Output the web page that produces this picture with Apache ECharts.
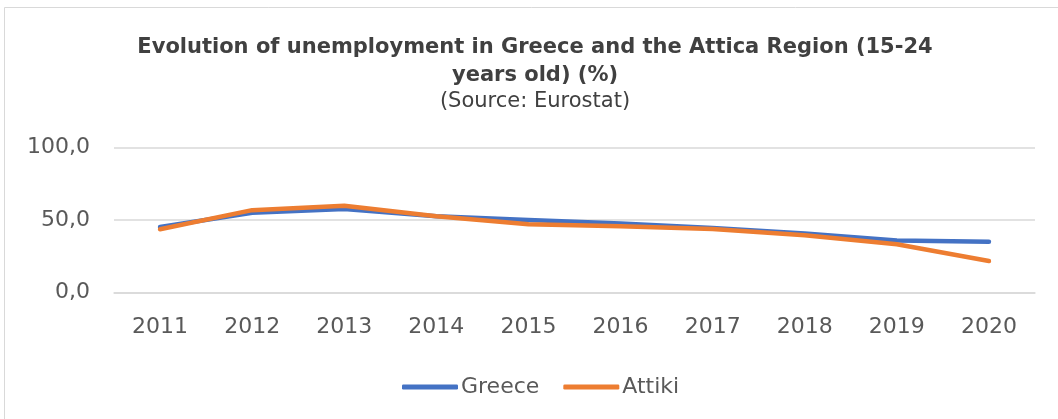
<!DOCTYPE html>
<html>
<head>
<meta charset="utf-8">
<script src="https://cdn.jsdelivr.net/npm/echarts@6/dist/echarts.min.js"></script>
<style>
html,body{margin:0;padding:0;background:#fff;}
#c{width:1058px;height:419px;}
</style>
</head>
<body>
<div id="c"></div>
<script>
const years = ['2011','2012','2013','2014','2015','2016','2017','2018','2019','2020'];
const greece = [45.2, 55.0, 57.6, 52.6, 50.0, 47.6, 44.5, 40.6, 35.8, 35.0];
const attiki = [43.6, 56.8, 59.9, 52.6, 47.0, 45.6, 43.8, 39.4, 33.2, 21.6];
const titleText = 'Evolution of unemployment in Greece and the Attica Region (15-24\nyears old) (%)';
const subtitleText = '(Source: Eurostat)';

const FONT = '"DejaVu Sans", Verdana, sans-serif';
const chart = echarts.init(document.getElementById('c'));
chart.setOption({
  animation: false,
  backgroundColor: '#fff',
  graphic: [{
    type: 'rect', shape: {x: 4.5, y: 7.5, width: 1100, height: 500},
    style: {fill: 'none', stroke: '#d9d9d9', lineWidth: 1}, silent: true, z: -1
  }],
  title: [{
    text: titleText, left: 535, top: 33, textAlign: 'center', padding: 0,
    textStyle: {fontFamily: FONT, fontSize: 21, fontWeight: 'bold', color: '#404040', lineHeight: 28.4}
  }, {
    text: subtitleText, left: 535, top: 90, textAlign: 'center', padding: 0,
    textStyle: {fontFamily: FONT, fontSize: 21, fontWeight: 'normal', color: '#404040', lineHeight: 24}
  }],
  legend: {
    data: ['Greece', 'Attiki'], left: 397, top: 371,
    icon: 'roundRect',
    itemWidth: 56, itemHeight: 5, itemGap: 24,
    textStyle: {fontFamily: FONT, fontSize: 22, color: '#595959', padding: [0,0,0,-2]}
  },
  grid: {left: 114, right: 23, top: 147.7, bottom: 126.7, containLabel: false},
  xAxis: {
    type: 'category', data: years, boundaryGap: true,
    axisLine: {lineStyle: {color: '#d9d9d9', width: 1.5}},
    axisTick: {show: false},
    axisLabel: {fontFamily: FONT, fontSize: 22, color: '#595959', margin: 24}
  },
  yAxis: {
    type: 'value', min: 0, max: 100, interval: 50,
    axisLine: {show: false}, axisTick: {show: false},
    splitLine: {lineStyle: {color: '#d9d9d9', width: 1.5}},
    axisLabel: {fontFamily: FONT, fontSize: 22, color: '#595959', margin: 24,
      formatter: v => v.toFixed(1).replace('.', ',')}
  },
  series: [{
    name: 'Greece', type: 'line', data: greece, symbol: 'none',
    lineStyle: {color: '#4472C4', width: 4.5, cap: 'round', join: 'round'},
    itemStyle: {color: '#4472C4'}
  }, {
    name: 'Attiki', type: 'line', data: attiki, symbol: 'none',
    lineStyle: {color: '#ED7D31', width: 4.5, cap: 'round', join: 'round'},
    itemStyle: {color: '#ED7D31'}
  }]
});
</script>
</body>
</html>
